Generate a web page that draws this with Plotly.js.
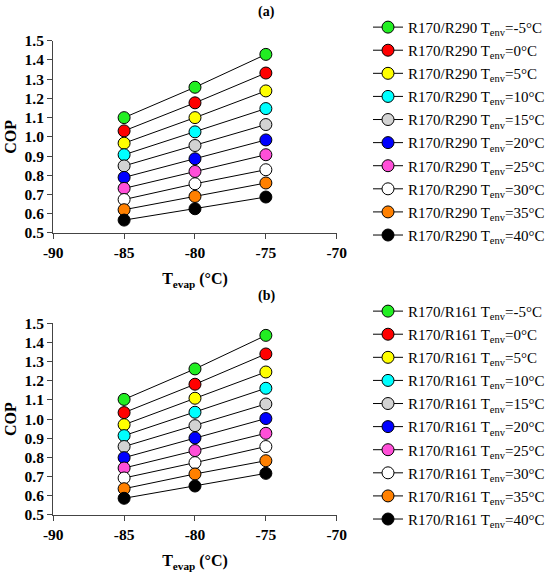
<!DOCTYPE html>
<html>
<head>
<meta charset="utf-8">
<script src="https://cdn.plot.ly/plotly-3.0.1.min.js"></script>
<style>html,body{margin:0;padding:0;background:#fff;}#chart{width:550px;height:572px;}</style>
</head>
<body>
<div id="chart"></div>
<script>
// Evaporation temperatures (°C)
var tEvap = [-85, -80, -75];
// Ambient temperatures (°C) for each series
var tEnv = [-5, 0, 5, 10, 15, 20, 25, 30, 35, 40];
// Marker colours per ambient temperature
var markerColors = ['#22ee22', '#ff0000', '#ffff00', '#00ffff', '#d3d3d3', '#0000ff', '#ff4fd8', '#ffffff', '#ff8000', '#000000'];
// Panel (a): R170/R290 COP, one row per Tenv
var copR290 = [
  [1.100, 1.258, 1.429],
  [1.031, 1.177, 1.332],
  [0.967, 1.100, 1.239],
  [0.907, 1.026, 1.147],
  [0.849, 0.955, 1.064],
  [0.789, 0.886, 0.984],
  [0.732, 0.820, 0.907],
  [0.674, 0.756, 0.829],
  [0.621, 0.690, 0.760],
  [0.567, 0.626, 0.687]
];
// Panel (b): R170/R161 COP, one row per Tenv
var copR161 = [
  [1.103, 1.262, 1.437],
  [1.034, 1.182, 1.340],
  [0.971, 1.109, 1.246],
  [0.914, 1.036, 1.161],
  [0.857, 0.966, 1.079],
  [0.799, 0.902, 1.003],
  [0.745, 0.836, 0.926],
  [0.693, 0.773, 0.857],
  [0.637, 0.714, 0.783],
  [0.587, 0.651, 0.717]
];
var mixA = 'R170/R290';
var mixB = 'R170/R161';
var xTicks = [-90, -85, -80, -75, -70];
var xTickText = ['-90', '-85', '-80', '-75', '-70'];
var yTicks = [0.5, 0.6, 0.7, 0.8, 0.9, 1.0, 1.1, 1.2, 1.3, 1.4, 1.5];

var serif = 'Liberation Serif, Times New Roman, serif';
var traces = [];
function addPanel(data, mix, xa, ya, leg) {
  for (var i = 0; i < tEnv.length; i++) {
    traces.push({
      type: 'scatter', mode: 'lines+markers',
      x: tEvap, y: data[i], xaxis: xa, yaxis: ya,
      name: mix + ' T<sub>env</sub>=' + tEnv[i] + '°C',
      legend: leg, legendgroup: leg + i,
      line: {color: '#000', width: 1},
      marker: {size: 12, color: markerColors[i], line: {color: '#000', width: 1}},
      cliponaxis: false
    });
  }
}
addPanel(copR290, mixA, 'x', 'y', 'legend');
addPanel(copR161, mixB, 'x2', 'y2', 'legend2');

function xAxis(anchor) {
  return {
    domain: [0.0982, 0.6213], anchor: anchor, range: [-90, -70],
    tickvals: xTicks, ticktext: xTickText, ticks: 'outside', ticklen: 5, tickwidth: 1, tickcolor: '#444',
    showline: true, linecolor: '#444', linewidth: 1.2, showgrid: false, zeroline: false,
    tickfont: {family: serif, size: 15.5, color: '#000', weight: 'bold'},
    title: {text: 'T<sub>evap</sub> (°C)', font: {family: serif, size: 16, color: '#000', weight: 'bold'}, standoff: 13}
  };
}
function yAxis(dom, anchor) {
  return {
    domain: dom, anchor: anchor, range: [0.5, 1.5],
    tickvals: yTicks, tickformat: '.1f', ticks: 'outside', ticklen: 5, tickwidth: 1, tickcolor: '#444',
    showline: true, linecolor: '#444', linewidth: 1.2, showgrid: false, zeroline: false,
    tickfont: {family: serif, size: 15.5, color: '#000', weight: 'bold'},
    title: {text: 'COP', font: {family: serif, size: 16, color: '#000', weight: 'bold'}, standoff: 4}
  };
}
var legendBase = {
  xanchor: 'left', yanchor: 'top', bgcolor: 'rgba(0,0,0,0)',
  font: {family: serif, size: 15, color: '#000'},
  traceorder: 'grouped', tracegroupgap: 0.6
};
var layout = {
  width: 550, height: 572,
  margin: {l: 0, r: 0, t: 0, b: 0},
  paper_bgcolor: '#fff', plot_bgcolor: '#fff',
  font: {family: serif, color: '#000'},
  showlegend: true,
  xaxis: xAxis('y'),
  yaxis: yAxis([0.5927, 0.9288], 'x'),
  xaxis2: xAxis('y2'),
  yaxis2: yAxis([0.0997, 0.4348], 'x2'),
  legend: Object.assign({}, legendBase, {x: 0.679, y: 0.981}),
  legend2: Object.assign({}, legendBase, {x: 0.679, y: 0.4845}),
  annotations: [
    {text: '(a)', x: 0.491, y: 1 - 12 / 572, xref: 'paper', yref: 'paper', yanchor: 'middle', showarrow: false,
     font: {family: serif, size: 14, color: '#000', weight: 'bold'}},
    {text: '(b)', x: 0.491, y: 1 - 296 / 572, xref: 'paper', yref: 'paper', yanchor: 'middle', showarrow: false,
     font: {family: serif, size: 14, color: '#000', weight: 'bold'}}
  ]
};
Plotly.newPlot('chart', traces, layout, {displayModeBar: false, staticPlot: true});
</script>
</body>
</html>
